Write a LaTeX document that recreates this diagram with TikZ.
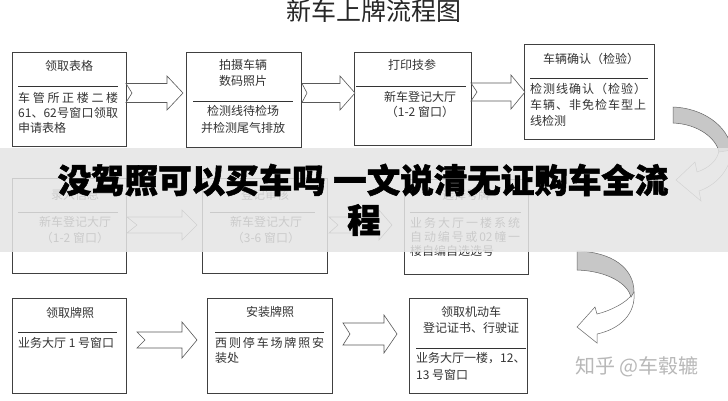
\documentclass[tikz,border=0pt]{standalone}
\usepackage{fontspec}
\setmainfont{Noto Sans CJK SC}
\newfontfamily\cjkbold{Noto Sans CJK SC}[BoldFeatures={FakeBold=1.6}]
\begin{document}
\begin{tikzpicture}[x=1pt,y=-1pt,
  box/.style={draw=black!75,line width=0.6pt,fill=white,inner sep=0pt,outer sep=0pt},
  sepline/.style={draw=black!80,line width=0.6pt},
  txt/.style={text=black!80,font=\fontsize{12}{14}\selectfont,inner sep=0pt},
  ltxt/.style={txt,anchor=west},
  blk/.style={draw=black!65,line width=0.6pt,fill=white,line join=miter},
  curvgray/.style={draw=black!60,line width=0.5pt,fill=black!22},
  curvwhite/.style={draw=black!60,line width=0.5pt,fill=white}]
\useasboundingbox (0,0) rectangle (728,400);
\fill[white] (0,0) rectangle (728,400);

\newcommand\barrow[7]{%
  \draw[blk] (#1,{#5-#6}) -- (#3,{#5-#6}) -- (#3,{#5-#7}) -- (#4,#5) -- (#3,{#5+#7}) -- (#3,{#5+#6}) -- (#1,{#5+#6}) -- (#2,#5) -- cycle;}

% title
\node[text=black!85,font=\fontsize{25}{28}\selectfont,inner sep=0pt] (title) at (374,11) {新车上牌流程图};

% ---------- row 1 ----------
\node[box,minimum width=114pt,minimum height=94pt] (b1) at (69,99.5) {};
\draw[sepline] (18,86) -- (118,86);
\node[txt] (b1t) at (69,66) {领取表格};
\node[ltxt] (b1a) at (18,98) {\makebox[100pt][s]{车\hfill 管\hfill 所\hfill 正\hfill 楼\hfill 二\hfill 楼}};
\node[ltxt] (b1b) at (18,113) {\makebox[100pt][s]{61、62\hfill 号\hfill 窗\hfill 口\hfill 领\hfill 取}};
\node[ltxt] (b1c) at (18,128) {申请表格};

\node[box,minimum width=115pt,minimum height=95pt] (b2) at (243.5,99.5) {};
\node[txt] (b2t) at (243,65) {拍摄车辆};
\node[txt] (b2u) at (243,81) {数码照片};
\draw[sepline] (193,101) -- (293,101);
\node[txt] (b2a) at (243,111) {检测线待检场};
\node[txt] (b2b) at (243,128) {并检测尾气排放};

\node[box,minimum width=117pt,minimum height=93pt] (b3) at (412.5,98.5) {};
\node[txt] (b3t) at (412,65) {打印技参};
\draw[sepline] (356,86) -- (466,86);
\node[txt] (b3a) at (420,97) {新车登记大厅};
\node[txt] (b3b) at (420,112) {（1-2 窗口）};

\node[box,minimum width=130pt,minimum height=95pt] (b4) at (589,91.5) {};
\node[txt] (b4t) at (591,59) {车辆确认（检验）};
\draw[sepline] (530,78) -- (648,78);
\node[ltxt] (b4a) at (530,89) {\makebox[116pt][s]{检\hfill 测\hfill 线\hfill 确\hfill 认\hfill （\hfill 检\hfill 验\hfill ）}};
\node[ltxt] (b4b) at (530,105) {\makebox[116pt][s]{车\hfill 辆\hfill 、\hfill 非\hfill 免\hfill 检\hfill 车\hfill 型\hfill 上}};
\node[ltxt] (b4c) at (530,121) {线检测};

\barrow{126}{132}{167}{183}{93}{9.5}{17}
\barrow{302}{307}{340}{355}{93}{9.5}{17}
\barrow{471}{477}{511}{525}{92}{9}{17}

% ---------- row 2 ----------
\node[box,minimum width=114pt,minimum height=95pt] (b5) at (69,225.5) {};
\node[txt] (b5t) at (75,195) {录入信息};
\draw[sepline] (18,212) -- (118,212);
\node[txt] (b5a) at (75,222) {新车登记大厅};
\node[txt] (b5b) at (75,238) {（1-2 窗口）};

\node[box,minimum width=125pt,minimum height=95pt] (b6) at (264.5,225.5) {};
\node[txt] (b6t) at (265,195) {登记审核};
\draw[sepline] (210,212) -- (315,212);
\node[txt] (b6a) at (266,222) {新车登记大厅};
\node[txt] (b6b) at (266,238) {（3-6 窗口）};

\node[box,minimum width=124pt,minimum height=95pt] (b7) at (466,226.5) {};
\node[txt] (b7t) at (466,195) {选择号牌};
\draw[sepline] (410,212) -- (521,212);
\node[ltxt] (b7a) at (410,223) {\makebox[110pt][s]{业\hfill 务\hfill 大\hfill 厅\hfill 一\hfill 楼\hfill 系\hfill 统}};
\node[ltxt] (b7b) at (410,237) {\makebox[110pt][s]{自\hfill 动\hfill 编\hfill 号\hfill 或\hfill 02\hfill 幢\hfill 一}};
\node[ltxt] (b7c) at (410,251) {楼自编自选选号};

\barrow{127}{137}{182}{197}{225}{8}{15}
\barrow{329}{338}{379}{392}{225}{8}{15}

% ---------- row 3 ----------
\node[box,minimum width=114pt,minimum height=95pt] (b8) at (69,345.5) {};
\node[txt] (b8t) at (70,313) {领取牌照};
\draw[sepline] (18,332) -- (117,332);
\node[ltxt] (b8a) at (18,343) {业务大厅 1 号窗口};

\node[box,minimum width=125pt,minimum height=95pt] (b9) at (269.5,345.5) {};
\node[txt] (b9t) at (270,312) {安装牌照};
\draw[sepline] (215,332) -- (324,332);
\node[ltxt] (b9a) at (215,343) {\makebox[109pt][s]{西\hfill 则\hfill 停\hfill 车\hfill 场\hfill 牌\hfill 照\hfill 安}};
\node[ltxt] (b9b) at (215,358) {装处};

\node[box,minimum width=118pt,minimum height=95pt] (b10) at (468,345.5) {};
\node[txt] (b10t) at (471,312) {领取机动车};
\node[txt] (b10u) at (471,328) {登记证书、行驶证};
\draw[sepline] (416,348) -- (526,348);
\node[ltxt] (b10a) at (416,358) {业务大厅一楼，12、};
\node[ltxt] (b10b) at (416,375) {13 号窗口};

\barrow{137}{145}{182}{197}{340}{8}{18}
\barrow{343}{350}{384}{397}{334}{11}{19}

% ---------- curved arrows ----------
% upper right
\draw[curvwhite] (732,150) .. controls (730,172) and (714,186) .. (699,191) -- (701,201) -- (676,180) -- (695,162) -- (697,172) .. controls (709,168) and (718,160) .. (719,150) -- cycle;
\draw[curvgray] (673,107) .. controls (702,108) and (728,125) .. (732,150) -- (719,152) .. controls (716,138) and (698,124) .. (673,123) -- cycle;
% lower middle
\draw[curvwhite] (634,292) .. controls (636,314) and (620,329) .. (597,334) -- (597,343) -- (577,327) -- (595,307) -- (597,314) .. controls (610,311) and (628,302) .. (632,294) -- cycle;
\draw[curvgray] (577,251) .. controls (612,252) and (634,268) .. (634,292) -- (631,297) .. controls (628,284) and (608,271) .. (577,270) -- cycle;

% watermark
\node[text=black!28,font=\fontsize{20}{22}\selectfont,inner sep=0pt] (wm) at (637,367) {知乎 @车毂辘};

% ---------- banner ----------
\fill[black!10,opacity=0.85] (0,148) rectangle (728,252);
\node[text=black,font=\cjkbold\bfseries\fontsize{33.5}{36}\selectfont,inner sep=0pt] (ban1) at (363,180) {没驾照可以买车吗 一文说清无证购车全流};
\node[text=black,font=\cjkbold\bfseries\fontsize{33.5}{36}\selectfont,inner sep=0pt] (ban2) at (364,220) {程};
\end{tikzpicture}
\end{document}
